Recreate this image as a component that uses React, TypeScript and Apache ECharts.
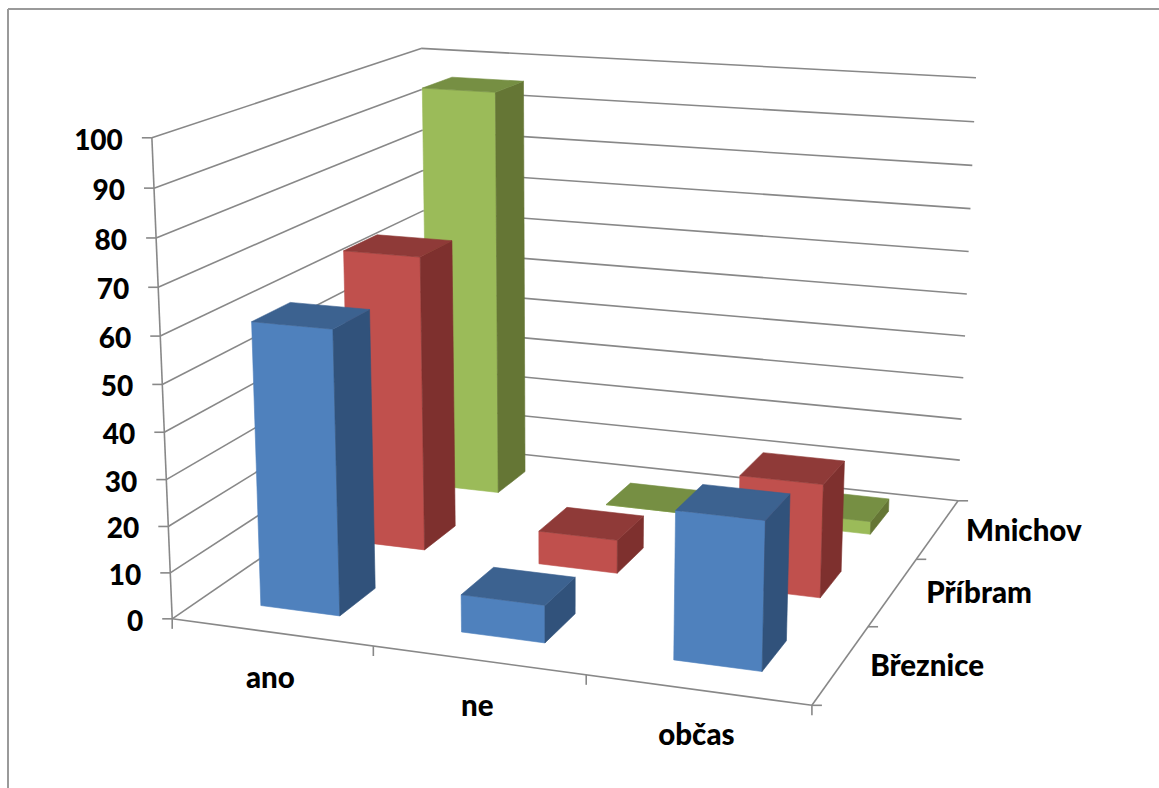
import React, { useEffect, useRef } from "react";
import * as echarts from "echarts";

// Chart content
const categories = ["ano", "ne", "občas"];
const depthLabels = ["Březnice", "Příbram", "Mnichov"];
const valueTicks = [0, 10, 20, 30, 40, 50, 60, 70, 80, 90, 100];
const breznice = [61, 8, 31];
const pribram = [66.5, 7.5, 25];
const mnichov = [95.6, 0, 3];

// Fill colours of each row: front, top, side
const rowColors = [
  ["#4F81BD", "#3C6290", "#31527B"],
  ["#C0504D", "#8F3A38", "#7E302E"],
  ["#9BBB59", "#768F43", "#657635"],
];

const BAR_MARGIN = 0.3; // gap on each side of a bar inside its floor cell
const AXIS_COLOR = "#888888";
const FONT = { fontFamily: "Lato", fontWeight: 900, fill: "#000" };
const NUMBER_SIZE = 28;
const WORD_SIZE = 29.5;

// Known box corners, [category, depth, value] to pixel, used to fit the perspective camera
const cameraAnchors: [number, number, number, number, number][] = [
  [0, 0, 0, 172, 618],
  [0, 0, 100, 152, 138],
  [3, 0, 0, 812, 706],
  [3, 3, 0, 958, 500],
  [0, 3, 0, 427, 445],
  [0, 3, 100, 421, 48],
  [3, 3, 100, 976, 78],
];

// Least-squares fit of a 3x4 projection matrix (last entry fixed at 1)
function fitCamera(anchors: typeof cameraAnchors): number[] {
  const rows: number[][] = [];
  const rhs: number[] = [];
  for (const [cx, cy, cz, px, py] of anchors) {
    const X = cx, Y = cy, Z = cz / 100, u = px / 1000, v = py / 1000;
    rows.push([X, Y, Z, 1, 0, 0, 0, 0, -u * X, -u * Y, -u * Z]);
    rhs.push(u);
    rows.push([0, 0, 0, 0, X, Y, Z, 1, -v * X, -v * Y, -v * Z]);
    rhs.push(v);
  }
  const n = 11;
  const m = Array.from({ length: n }, (_, i) => {
    const r = new Array(n + 1).fill(0);
    rows.forEach((row, k) => {
      for (let j = 0; j < n; j++) r[j] += row[i] * row[j];
      r[n] += row[i] * rhs[k];
    });
    return r;
  });
  for (let i = 0; i < n; i++) {
    let best = i;
    for (let k = i + 1; k < n; k++) if (Math.abs(m[k][i]) > Math.abs(m[best][i])) best = k;
    [m[i], m[best]] = [m[best], m[i]];
    for (let k = 0; k < n; k++) {
      if (k === i) continue;
      const f = m[k][i] / m[i][i];
      for (let j = i; j <= n; j++) m[k][j] -= f * m[i][j];
    }
  }
  return m.map((r, i) => r[n] / r[i]);
}

const cam = fitCamera(cameraAnchors);

// Category, depth and value space to screen pixels
function project(x: number, y: number, value: number): [number, number] {
  const z = value / 100;
  const w = cam[8] * x + cam[9] * y + cam[10] * z + 1;
  return [
    (1000 * (cam[0] * x + cam[1] * y + cam[2] * z + cam[3])) / w,
    (1000 * (cam[4] * x + cam[5] * y + cam[6] * z + cam[7])) / w,
  ];
}

const axisLine = (a: number[], b: number[]) => ({
  type: "line",
  shape: { x1: a[0], y1: a[1], x2: b[0], y2: b[1] },
  style: { stroke: AXIS_COLOR, lineWidth: 1.6, fill: "none" },
});

const label = (text: string, x: number, y: number, textAlign: string, fontSize: number) => ({
  type: "text",
  style: { text, x, y, textAlign, textVerticalAlign: "middle", fontSize, ...FONT },
});

const face = (points: number[][], color: string) => ({
  type: "polygon",
  shape: { points },
  style: { fill: color, stroke: color, lineWidth: 0.6 },
});

// One bar: three visible faces of a box standing on the floor
function barRenderer(row: number) {
  const [front, top, side] = rowColors[row];
  return (_: unknown, api: any) => {
    const cat = api.value(0);
    const v = api.value(1);
    const x0 = cat + BAR_MARGIN, x1 = cat + 1 - BAR_MARGIN;
    const y0 = row + BAR_MARGIN, y1 = row + 1 - BAR_MARGIN;
    return {
      type: "group",
      children: [
        face([project(x0, y0, 0), project(x1, y0, 0), project(x1, y0, v), project(x0, y0, v)], front),
        face([project(x1, y0, 0), project(x1, y1, 0), project(x1, y1, v), project(x1, y0, v)], side),
        face([project(x0, y0, v), project(x1, y0, v), project(x1, y1, v), project(x0, y1, v)], top),
      ],
    };
  };
}

function gridRenderer(_: unknown, api: any) {
  const v = api.value(0);
  const corner = project(0, 0, v);
  const children: any[] = [
    axisLine(corner, project(0, 3, v)),
    axisLine(project(0, 3, v), project(3, 3, v)),
    axisLine(corner, [corner[0] - 10, corner[1]]),
    label(String(v), corner[0] - 29, corner[1] + 1, "right", NUMBER_SIZE),
  ];
  return { type: "group", children };
}

function frameRenderer() {
  const children: any[] = [
    axisLine(project(0, 0, 0), project(0, 0, 100)),
    axisLine(project(0, 0, 0), project(3, 0, 0)),
    axisLine(project(3, 0, 0), project(3, 3, 0)),
  ];
  for (let i = 0; i <= categories.length; i++) {
    const p = project(i, 0, 0);
    children.push(axisLine(p, [p[0], p[1] + 10]));
  }
  for (let i = 0; i <= depthLabels.length; i++) {
    const p = project(3, i, 0);
    children.push(axisLine(p, [p[0] + 10, p[1]]));
  }
  categories.forEach((c, i) => {
    const p = project(i + 0.5, 0, 0);
    children.push(label(c, p[0] - 1, p[1] + 44, "center", WORD_SIZE));
  });
  depthLabels.forEach((d, i) => {
    const p = project(3, i + 0.5, 0);
    children.push(label(d, p[0] + 86, p[1], "center", WORD_SIZE));
  });
  return { type: "group", children };
}

const toRows = (values: number[]) => values.map((v, i) => [i, v]);

export default function App() {
  const ref = useRef<HTMLDivElement>(null);
  useEffect(() => {
    const chart = echarts.init(ref.current!, null, { renderer: "svg" });
    const rows = [breznice, pribram, mnichov];
    chart.setOption({
      animation: false,
      backgroundColor: "#fff",
      graphic: [
        { type: "line", silent: true, shape: { x1: 8, y1: 9, x2: 1159, y2: 9 }, style: { stroke: "#9A9A9A", lineWidth: 2 } },
        { type: "line", silent: true, shape: { x1: 8, y1: 9, x2: 8, y2: 788 }, style: { stroke: "#9A9A9A", lineWidth: 2 } },
      ],
      series: [
        { type: "custom", coordinateSystem: "none", silent: true, data: valueTicks.map((v) => [v]), renderItem: gridRenderer },
        { type: "custom", coordinateSystem: "none", silent: true, data: [[0]], renderItem: frameRenderer },
        // Rows are painted from the back to the front
        ...[2, 1, 0].map((row) => ({
          type: "custom",
          name: depthLabels[row],
          coordinateSystem: "none",
          silent: true,
          data: toRows(rows[row]),
          renderItem: barRenderer(row),
        })),
      ],
    });
    return () => chart.dispose();
  }, []);
  return <div ref={ref} style={{ position: "fixed", left: 0, top: 0, width: 1159, height: 788 }} />;
}
